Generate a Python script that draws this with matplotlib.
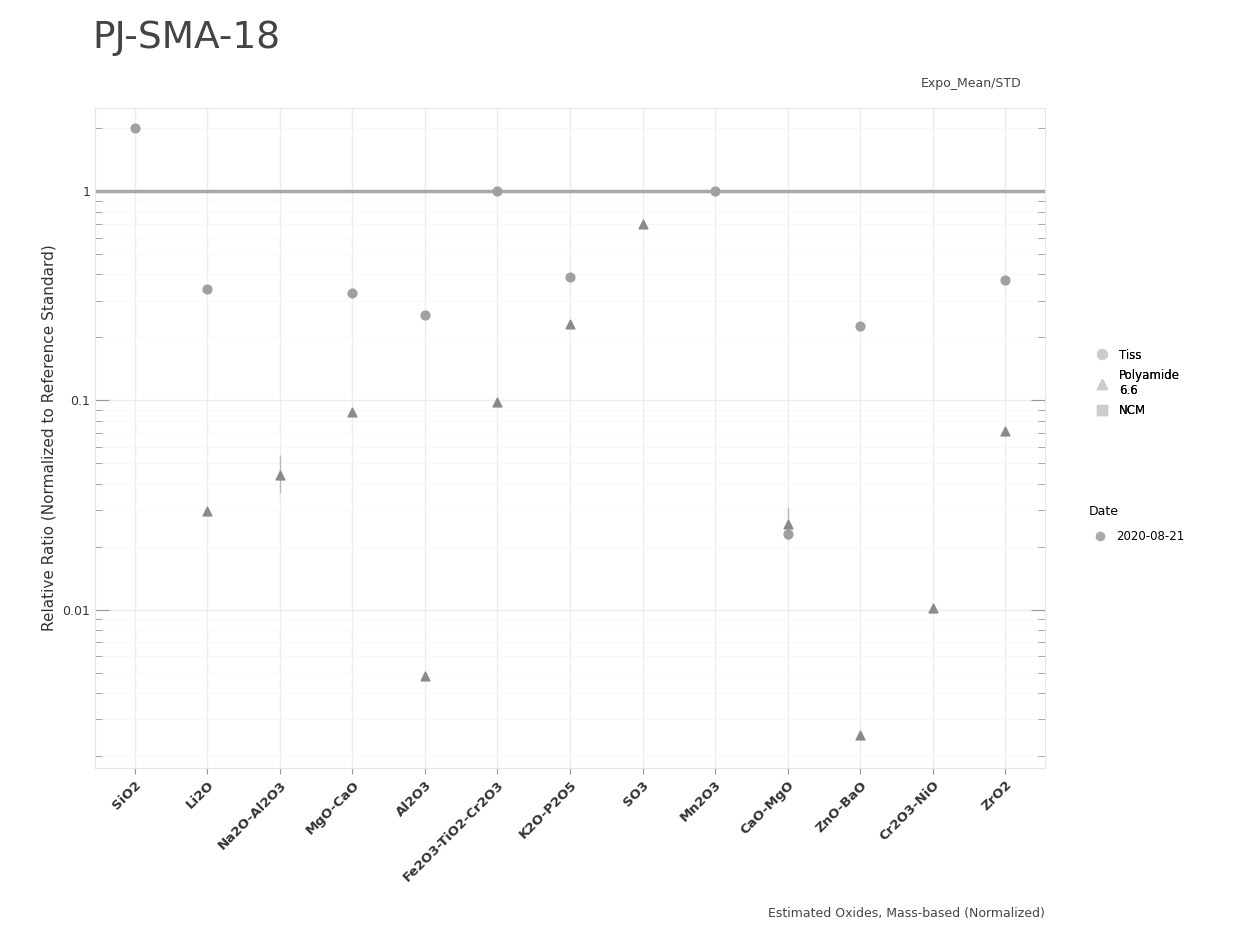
import matplotlib
matplotlib.use("Agg")
import matplotlib.pyplot as plt
import numpy as np
from matplotlib.ticker import LogLocator, NullFormatter, FixedLocator, FixedFormatter
from matplotlib.lines import Line2D

plt.rcParams['font.family'] = ['DejaVu Sans']

categories = ["SiO2", "Li2O", "Na2O-Al2O3", "MgO-CaO", "Al2O3", "Fe2O3-TiO2-Cr2O3", "K2O-P2O5",
              "SO3", "Mn2O3", "CaO-MgO", "ZnO-BaO", "Cr2O3-NiO", "ZrO2"]

# series A (circles)
a_cat = [0, 1, 3, 4, 5, 6, 8, 9, 10, 12]
a_val = [2.0, 0.34, 0.325, 0.255, 1.0, 0.39, 1.0, 0.0229, 0.226, 0.375]
# series B (triangles)
b_cat = [1, 2, 3, 4, 5, 6, 7, 9, 10, 11, 12]
b_val = [0.0295, 0.0438, 0.0877, 0.00483, 0.098, 0.231, 0.695, 0.0256, 0.00252, 0.0102, 0.0711]
b_err_lo = [0.0295, 0.036, 0.0877, 0.00483, 0.098, 0.231, 0.695, 0.0215, 0.00252, 0.0102, 0.0711]
b_err_hi = [0.0295, 0.055, 0.0877, 0.00483, 0.098, 0.231, 0.695, 0.031, 0.00252, 0.0102, 0.0711]

legend_labels = ["Tiss", "Polyamide\n6.6", "NCM"]
date_label = "2020-08-21"

fig = plt.figure(figsize=(12.41, 9.33), dpi=100)
ax = fig.add_axes([95/1241, 1-768/933, (1045-95)/1241, (768-108)/933])

ax.set_yscale('log')
ax.set_ylim(0.00175, 2.5)
ax.set_xlim(-0.55, len(categories) - 0.45)

x = np.arange(len(categories))
ax.set_xticks(x)
ax.set_xticklabels(categories, rotation=45, ha='right', rotation_mode='anchor', fontsize=9.5,
                   fontweight='bold', color='#333333')
ax.get_xticklabels()[0].set_color('#6a5acd')

ax.yaxis.set_major_locator(FixedLocator([0.01, 0.1, 1]))
ax.yaxis.set_major_formatter(FixedFormatter(["0.01", "0.1", "1"]))
ax.yaxis.set_minor_locator(LogLocator(base=10, subs=np.arange(2, 10)))
ax.yaxis.set_minor_formatter(NullFormatter())
ax.tick_params(axis='y', which='both', right=True, direction='in', colors='#999999', labelcolor='#333333', labelsize=9)
ax.tick_params(axis='y', which='major', length=10)
ax.tick_params(axis='y', which='minor', length=5)
ax.tick_params(axis='x', length=4, colors='#999999', labelcolor='#333333')

ax.grid(True, which='major', axis='both', color='#ececec', lw=1)
ax.grid(True, which='minor', axis='y', color='#f6f6f6', lw=0.6)
for s in ax.spines.values():
    s.set_color('#e6e6e6')

ax.axhline(1.0, color='#a8a8a8', lw=2.5, zorder=2)

ax.vlines(b_cat, b_err_lo, b_err_hi, color='#bbbbbb', lw=1, zorder=3)
ax.scatter(a_cat, a_val, marker='o', s=40, color='#a0a0a0', zorder=4)
ax.scatter(b_cat, b_val, marker='^', s=40, color='#8a8a8a', zorder=4)

ax.set_ylabel("Relative Ratio (Normalized to Reference Standard)", fontsize=11, color='#333333')

fig.text(92/1241, 1-38/933, "PJ-SMA-18", fontsize=27, color='#444444', va='center', ha='left')
fig.text(1022/1241, 1-84/933, "Expo_Mean/STD", fontsize=9, color='#444444', va='center', ha='right')
fig.text(1045/1241, 1-913/933, "Estimated Oxides, Mass-based (Normalized)", fontsize=9, color='#444444', va='center', ha='right')

h1 = [Line2D([], [], marker='o', ls='', color='#cccccc', markersize=7),
      Line2D([], [], marker='^', ls='', color='#cccccc', markersize=7),
      Line2D([], [], marker='s', ls='', color='#cccccc', markersize=7)]
leg1 = fig.legend(h1, legend_labels, loc='upper left', bbox_to_anchor=(1080/1241, 1-338/933),
                  frameon=False, fontsize=8.5, handletextpad=0.4, labelspacing=0.6)
fig.add_artist(leg1)
h2 = [Line2D([], [], marker='o', ls='', color='#aaaaaa', markersize=6)]
fig.legend(h2, [date_label], loc='upper left', bbox_to_anchor=(1080/1241, 1-497/933),
           frameon=False, fontsize=8.5, title="Date", title_fontsize=9, alignment='left',
           handletextpad=0.4, borderaxespad=0.3, labelspacing=1.0)

fig.savefig("out.png", dpi=100)
